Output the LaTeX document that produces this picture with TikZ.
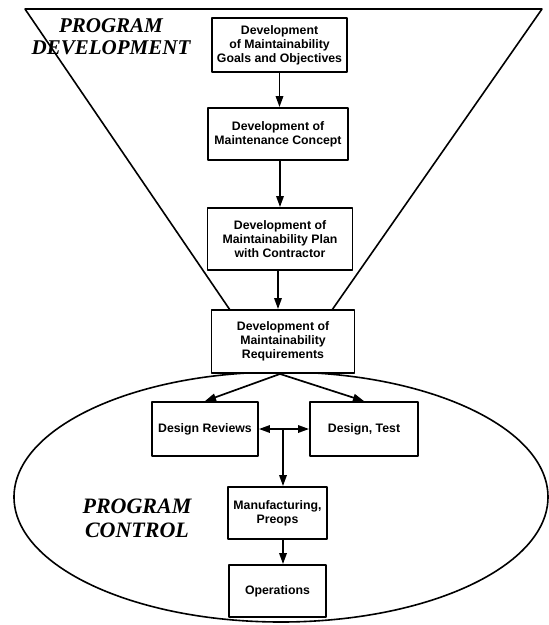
\documentclass[tikz,border=0pt]{standalone}
\usepackage{fontspec}
\newfontfamily\boxfont{Liberation Sans}
\newfontfamily\phasefont{Liberation Serif}
\usetikzlibrary{arrows.meta}

\begin{document}
\begin{tikzpicture}[x=1pt, y=-1pt, line join=round, >={Triangle[length=11pt,width=7.5pt]},
	stage/.style={draw, line width=1.9pt, fill=white, align=center, inner sep=2pt,
		font=\boxfont\bfseries\fontsize{12.3}{14}\selectfont},
	phase/.style={align=center, font=\phasefont\bfseries\itshape\fontsize{21}{22}\selectfont},
	flow/.style={->, line width=1.7pt}]
	\useasboundingbox (0,0) rectangle (549,625);
	\coordinate (FL) at (25,9);
	\coordinate (FR) at (542,9);
	\coordinate (FA) at (230,310);
	\coordinate (FB) at (332,310);
	\coordinate (jn) at (283,429);
	% funnel and control ellipse
	\draw[line width=1.6pt] (281,497) ellipse [x radius=267pt, y radius=125pt];
	\draw[line width=1.6pt] (FA)--(FL)--(FR)--(FB);
	\node[phase] (pdev) at (111,37) {PROGRAM\\DEVELOPMENT};
	\node[phase, font=\phasefont\bfseries\itshape\fontsize{22}{24}\selectfont] (pctl) at (137,518) {PROGRAM\\CONTROL};
	% stages
	\node[stage, minimum width=135pt, minimum height=54pt] (goals) at (279.5,45) {Development\\of Maintainability\\Goals and Objectives};
	\node[stage, minimum width=140pt, minimum height=52pt] (concept) at (278,134) {Development of\\Maintenance Concept};
	\node[stage, minimum width=145pt, minimum height=62pt] (plan) at (280,239) {Development of\\Maintainability Plan\\with Contractor};
	\node[stage, minimum width=143pt, minimum height=63pt] (req) at (283,341.5) {Development of\\Maintainability\\Requirements};
	\node[stage, minimum width=106pt, minimum height=54pt] (rev) at (205,429) {Design Reviews};
	\node[stage, minimum width=108pt, minimum height=54pt] (test) at (364,429) {Design, Test};
	\node[stage, minimum width=99pt, minimum height=52pt] (mfg) at (277.5,513) {Manufacturing,\\Preops};
	\node[stage, minimum width=97pt, minimum height=52pt] (ops) at (277.5,591) {Operations};
	% arrows
	\draw[flow] (goals.south)--(goals.south |- concept.north);
	\draw[flow] (plan.north |- concept.south)--(plan.north);
	\draw[flow] ([xshift=-2pt]plan.south)--([xshift=-2pt]plan.south |- req.north);
	\draw[flow] ([xshift=-3pt]req.south)--(rev.north);
	\draw[flow] ([xshift=-3pt]req.south)--(test.north);
	\draw[flow] (jn)--(rev.east);
	\draw[flow] (jn)--(test.west);
	\draw[flow] (jn)--(jn |- mfg.north);
	\draw[flow] (mfg.south -| jn)--(ops.north -| jn);
\end{tikzpicture}
\end{document}
